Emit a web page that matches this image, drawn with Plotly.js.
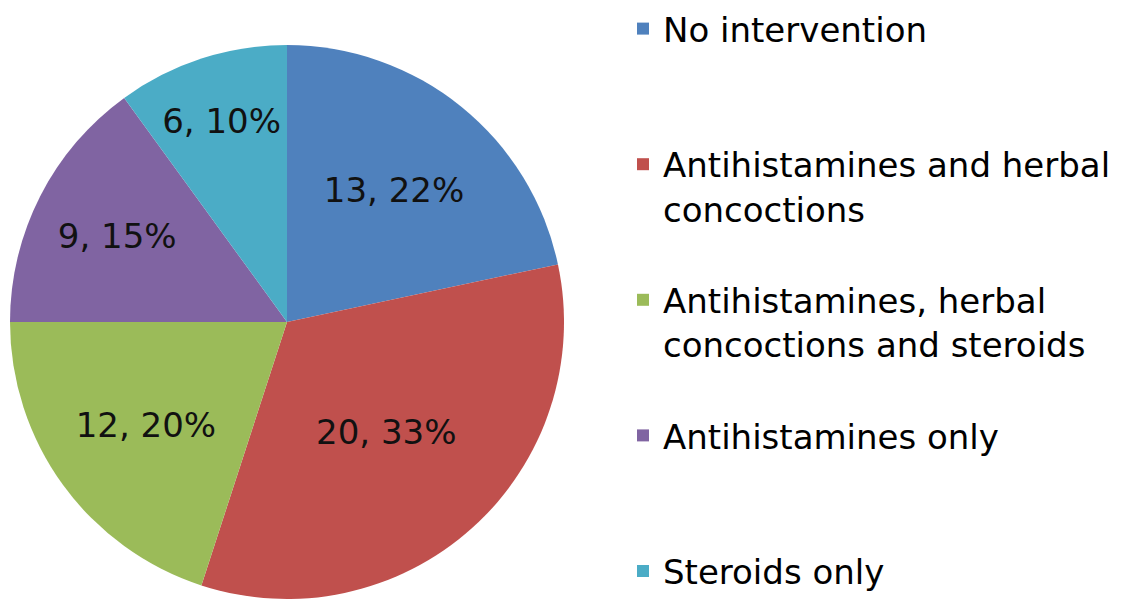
<!DOCTYPE html>
<html>
<head>
<meta charset="utf-8">
<script src="https://cdn.plot.ly/plotly-3.0.1.min.js"></script>
<style>html,body{margin:0;padding:0;background:#fff;}#chart{width:1143px;height:599px;}</style>
</head>
<body>
<div id="chart"></div>
<script>
const categories = [
  "No intervention",
  "Antihistamines and herbal concoctions",
  "Antihistamines, herbal concoctions and steroids",
  "Antihistamines only",
  "Steroids only"
];
const legendLabels = [
  "No intervention<br> <br> ",
  "Antihistamines and herbal<br>concoctions<br> ",
  "Antihistamines, herbal<br>concoctions and steroids<br> ",
  "Antihistamines only<br> <br> ",
  "Steroids only<br> <br> "
];
const counts = [13, 20, 12, 9, 6];
const colors = ["#4F81BD", "#C0504D", "#9BBB59", "#8064A2", "#4BACC6"];

const W = 1143, H = 599;
const cx = 287, cy = 322, r = 277;

const trace = {
  type: "pie",
  labels: legendLabels,
  values: counts,
  customdata: categories,
  sort: false,
  direction: "clockwise",
  rotation: 0,
  marker: {colors: colors, line: {width: 0}},
  texttemplate: "%{value}, %{percent:.0%}",
  textposition: "inside",
  insidetextorientation: "horizontal",
  textfont: {family: "DejaVu Sans, sans-serif", size: 34, color: "#111"},
  hoverinfo: "none",
  domain: {x: [(cx - r) / W, (cx + r) / W], y: [(H - cy - r) / H, (H - cy + r) / H]}
};

const layout = {
  width: W, height: H,
  margin: {l: 0, r: 0, t: 0, b: 0},
  paper_bgcolor: "#fff",
  showlegend: true,
  legend: {
    x: 623 / W, xanchor: "left", y: 1, yanchor: "top",
    font: {family: "DejaVu Sans, sans-serif", size: 34, color: "#000"},
    valign: "top",
    bgcolor: "rgba(0,0,0,0)"
  }
};

Plotly.newPlot("chart", [trace], layout, {staticPlot: true});
</script>
</body>
</html>
